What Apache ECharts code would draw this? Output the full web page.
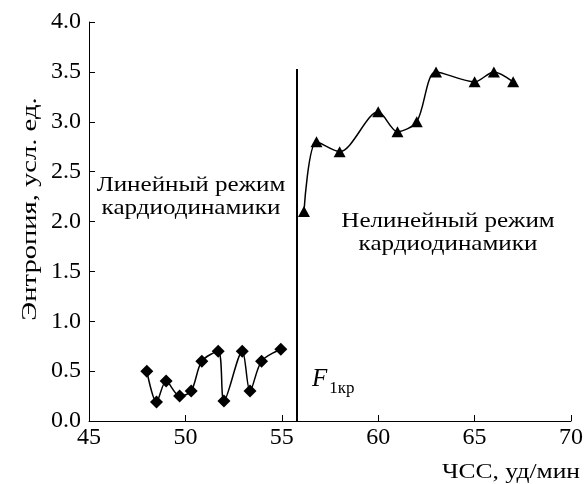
<!DOCTYPE html>
<html>
<head>
<meta charset="utf-8">
<script src="https://cdn.jsdelivr.net/npm/echarts@6/dist/echarts.min.js"></script>
<style>
  html, body { margin: 0; padding: 0; background: #fff; }
  #chart { width: 586px; height: 484px; }
</style>
</head>
<body>
<div id="chart"></div>
<script>
// линейный режим
const linHR = [48, 48.5, 49, 49.7, 50.3, 50.85, 51.7, 52, 52.95, 53.35, 53.95, 54.95]
const linEntropy = [0.5, 0.19, 0.4, 0.25, 0.3, 0.6, 0.7, 0.2, 0.7, 0.3, 0.6, 0.72]
// нелинейный режим
const nonlinHR = [56.15, 56.8, 58, 60, 61, 62, 63, 65, 66, 67]
const nonlinEntropy = [2.1, 2.8, 2.7, 3.1, 2.9, 3.0, 3.5, 3.4, 3.5, 3.4]
// критическая частота
const fCrit = 55.75
const fLineTop = 3.53

const font = '"Liberation Serif", "DejaVu Serif", serif'

let chart = echarts.init(document.getElementById('chart'))
let option = {
  animation: false,
  backgroundColor: '#fff',
  textStyle: { fontFamily: font },
  grid: { left: 89, right: 10, top: 22, bottom: 63 },
  xAxis: {
    type: 'value',
    min: 45, max: 70, interval: 5,
    axisLine: { lineStyle: { color: '#000', width: 1 } },
    axisTick: { inside: true, length: 6, lineStyle: { color: '#000' } },
    axisLabel: { fontFamily: font, fontSize: 24, color: '#000', margin: 5 },
    splitLine: { show: false }
  },
  yAxis: {
    type: 'value',
    min: 0, max: 4, interval: 0.5,
    axisLine: { show: true, lineStyle: { color: '#000', width: 1 } },
    axisTick: { show: true, inside: true, length: 6, lineStyle: { color: '#000' } },
    axisLabel: {
      fontFamily: font, fontSize: 24, color: '#000', margin: 8,
      formatter: v => v.toFixed(1)
    },
    splitLine: { show: false }
  },
  series: [
    {
      type: 'line',
      data: linHR.map((x, i) => [x, linEntropy[i]]),
      smooth: 0.3,
      symbol: 'diamond',
      symbolSize: 13,
      lineStyle: { color: '#000', width: 1.5 },
      itemStyle: { color: '#000' },
      markLine: {
        silent: true,
        symbol: 'none',
        label: { show: false },
        lineStyle: { color: '#000', width: 2, type: 'solid' },
        data: [[{ coord: [fCrit, 0] }, { coord: [fCrit, fLineTop] }]]
      }
    },
    {
      type: 'line',
      data: nonlinHR.map((x, i) => [x, nonlinEntropy[i]]),
      smooth: 0.3,
      symbol: 'triangle',
      symbolSize: [12, 11],
      lineStyle: { color: '#000', width: 1.5 },
      itemStyle: { color: '#000' }
    }
  ],
  graphic: [
    {
      type: 'text', x: 191, y: 197, scaleX: 1.14,
      style: {
        text: 'Линейный режим\nкардиодинамики',
        font: '22px ' + font, fill: '#000',
        align: 'center', verticalAlign: 'middle', lineHeight: 23
      }
    },
    {
      type: 'text', x: 448, y: 233, scaleX: 1.14,
      style: {
        text: 'Нелинейный режим\nкардиодинамики',
        font: '22px ' + font, fill: '#000',
        align: 'center', verticalAlign: 'middle', lineHeight: 23
      }
    },
    {
      // подписи осей
      type: 'text', x: 580, y: 472, scaleX: 1.16,
      style: {
        text: 'ЧСС, уд/мин',
        font: '22px ' + font, fill: '#000',
        align: 'right', verticalAlign: 'middle'
      }
    },
    {
      type: 'text', x: 30, y: 209, rotation: Math.PI / 2, scaleX: 1.3,
      style: {
        text: 'Энтропия, усл. ед.',
        font: '22px ' + font, fill: '#000',
        align: 'center', verticalAlign: 'middle'
      }
    },
    {
      type: 'text', x: 312, y: 364,
      style: {
        text: '{f|F}{s|1кр}',
        fill: '#000',
        rich: {
          f: { fontFamily: font, fontSize: 25, fontStyle: 'italic', lineHeight: 28, verticalAlign: 'bottom' },
          s: { fontFamily: font, fontSize: 17, padding: [0, 0, -5, 2], verticalAlign: 'bottom' }
        }
      }
    }
  ]
}
chart.setOption(option)
</script>
</body>
</html>
